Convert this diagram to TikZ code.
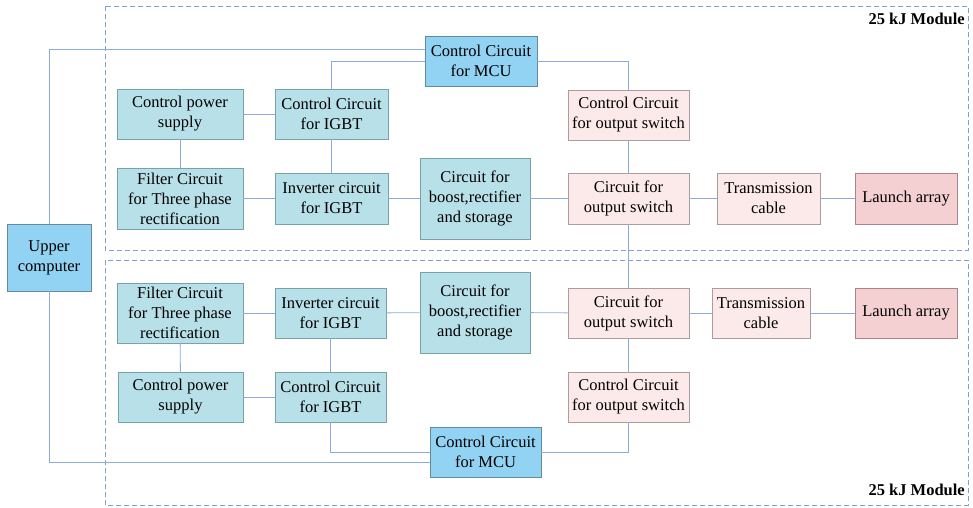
\documentclass[tikz,border=0pt]{standalone}
\usepackage{fontspec}
\setmainfont{Liberation Serif}
\definecolor{linkblue}{RGB}{140,170,225}
\definecolor{framblue}{RGB}{130,160,215}
\definecolor{cyanfill}{RGB}{184,224,233}
\definecolor{cyanedge}{RGB}{118,162,170}
\definecolor{mcufill}{RGB}{146,210,243}
\definecolor{mcuedge}{RGB}{98,138,160}
\definecolor{pinkfill}{RGB}{252,234,234}
\definecolor{pinkedge}{RGB}{172,156,156}
\definecolor{launchfill}{RGB}{245,208,211}
\definecolor{launchedge}{RGB}{170,132,134}

\begin{document}
\begin{tikzpicture}[x=1pt, y=-1pt,
        every node/.style={font=\fontsize{16.5}{20}\selectfont, align=center, inner sep=0pt},
        cyanbox/.style={rectangle, draw=cyanedge, fill=cyanfill, line width=0.8pt, minimum height=50pt},
        mcubox/.style={rectangle, draw=mcuedge, fill=mcufill, line width=0.8pt, minimum height=50pt},
        pinkbox/.style={rectangle, draw=pinkedge, fill=pinkfill, line width=0.8pt, minimum height=51pt},
        launchbox/.style={rectangle, draw=launchedge, fill=launchfill, line width=0.8pt, minimum height=51pt},
        link/.style={draw=linkblue, line width=0.9pt},
        module/.style={draw=framblue, line width=0.9pt, dash pattern=on 5pt off 3pt}]
        \useasboundingbox (0,0) rectangle (973,507);
        \draw[module] (105,6) rectangle (968,250);
        \draw[module] (105,260) rectangle (968,505);
        \node[anchor=east, font=\fontsize{16.5}{20}\selectfont\bfseries] (ttitle) at (965,19) {25 kJ Module};
        \node[anchor=east, font=\fontsize{16.5}{20}\selectfont\bfseries] (btitle) at (965,490) {25 kJ Module};
        \node[mcubox, minimum width=84pt, minimum height=67pt] (upper) at (49,257.5) {Upper\\computer};
        \node[mcubox, minimum width=112pt] (tmcu) at (481,61) {Control Circuit\\for MCU};
        \node[cyanbox, minimum width=126pt] (tpower) at (180,114) {Control power\\supply};
        \node[cyanbox, minimum width=113pt] (tigbtc) at (331.5,114) {Control Circuit\\for IGBT};
        \node[cyanbox, minimum width=126pt, minimum height=61pt] (tfilter) at (180,198.5) {Filter Circuit\\for Three phase\\rectification};
        \node[cyanbox, minimum width=113pt, minimum height=51pt] (tinv) at (331.5,198.5) {Inverter circuit\\for IGBT};
        \node[cyanbox, minimum width=110pt, minimum height=81pt] (tboost) at (475,198.5) {Circuit for\\boost,rectifier\\and storage};
        \node[pinkbox, minimum width=121pt, minimum height=50pt] (tswc) at (628.5,115) {Control Circuit\\for output switch};
        \node[pinkbox, minimum width=121pt] (tsw) at (628.5,198.5) {Circuit for\\output switch};
        \node[pinkbox, minimum width=103pt] (tcable) at (768.5,198.5) {Transmission\\cable};
        \node[launchbox, minimum width=102pt] (tlaunch) at (906,198.5) {Launch array};
        \node[cyanbox, minimum width=126pt, minimum height=60pt] (bfilter) at (180,313) {Filter Circuit\\for Three phase\\rectification};
        \node[cyanbox, minimum width=111pt] (binv) at (330.5,313) {Inverter circuit\\for IGBT};
        \node[cyanbox, minimum width=125pt] (bpower) at (180.5,397) {Control power\\supply};
        \node[cyanbox, minimum width=111pt] (bigbtc) at (330.5,397) {Control Circuit\\for IGBT};
        \node[cyanbox, minimum width=110pt, minimum height=81pt] (bboost) at (475,312.5) {Circuit for\\boost,rectifier\\and storage};
        \node[pinkbox, minimum width=121pt, minimum height=50pt] (bsw) at (628.5,313) {Circuit for\\output switch};
        \node[pinkbox, minimum width=121pt, minimum height=50pt] (bswc) at (628.5,397) {Control Circuit\\for output switch};
        \node[pinkbox, minimum width=98pt, minimum height=50pt] (bcable) at (761,313) {Transmission\\cable};
        \node[launchbox, minimum width=102pt, minimum height=50pt] (blaunch) at (906,313) {Launch array};
        \node[mcubox, minimum width=111pt] (bmcu) at (485.5,452) {Control Circuit\\for MCU};
        \draw[link] (upper.north) |- ([yshift=12pt]tmcu.west);
        \draw[link] (tmcu.west) -| (tigbtc.north);
        \draw[link] (tmcu.east) -| (tswc.north);
        \draw[link] (tpower) -- (tigbtc);
        \draw[link] (tpower) -- (tfilter);
        \draw[link] (tigbtc) -- (tinv);
        \draw[link] (tfilter) -- (tinv);
        \draw[link] (tinv) -- (tboost);
        \draw[link] (tboost) -- (tsw);
        \draw[link] (tswc) -- (tsw);
        \draw[link] (tsw) -- (tcable);
        \draw[link] (tcable) -- (tlaunch);
        \draw[link] (tsw.south) -- (bsw.north);
        \draw[link] (bfilter) -- (binv);
        \draw[link] (bfilter) -- (bpower);
        \draw[link] (bpower) -- (bigbtc);
        \draw[link] (binv) -- (bigbtc);
        \draw[link] (binv) -- (bboost);
        \draw[link] (bboost) -- (bsw);
        \draw[link] (bsw) -- (bcable);
        \draw[link] (bcable) -- (blaunch);
        \draw[link] (bsw) -- (bswc);
        \draw[link] (bigbtc.south) |- (bmcu.west);
        \draw[link] (upper.south) |- ([yshift=-10pt]bmcu.west);
        \draw[link] (bmcu.east) -| (bswc.south);
\end{tikzpicture}
\end{document}
